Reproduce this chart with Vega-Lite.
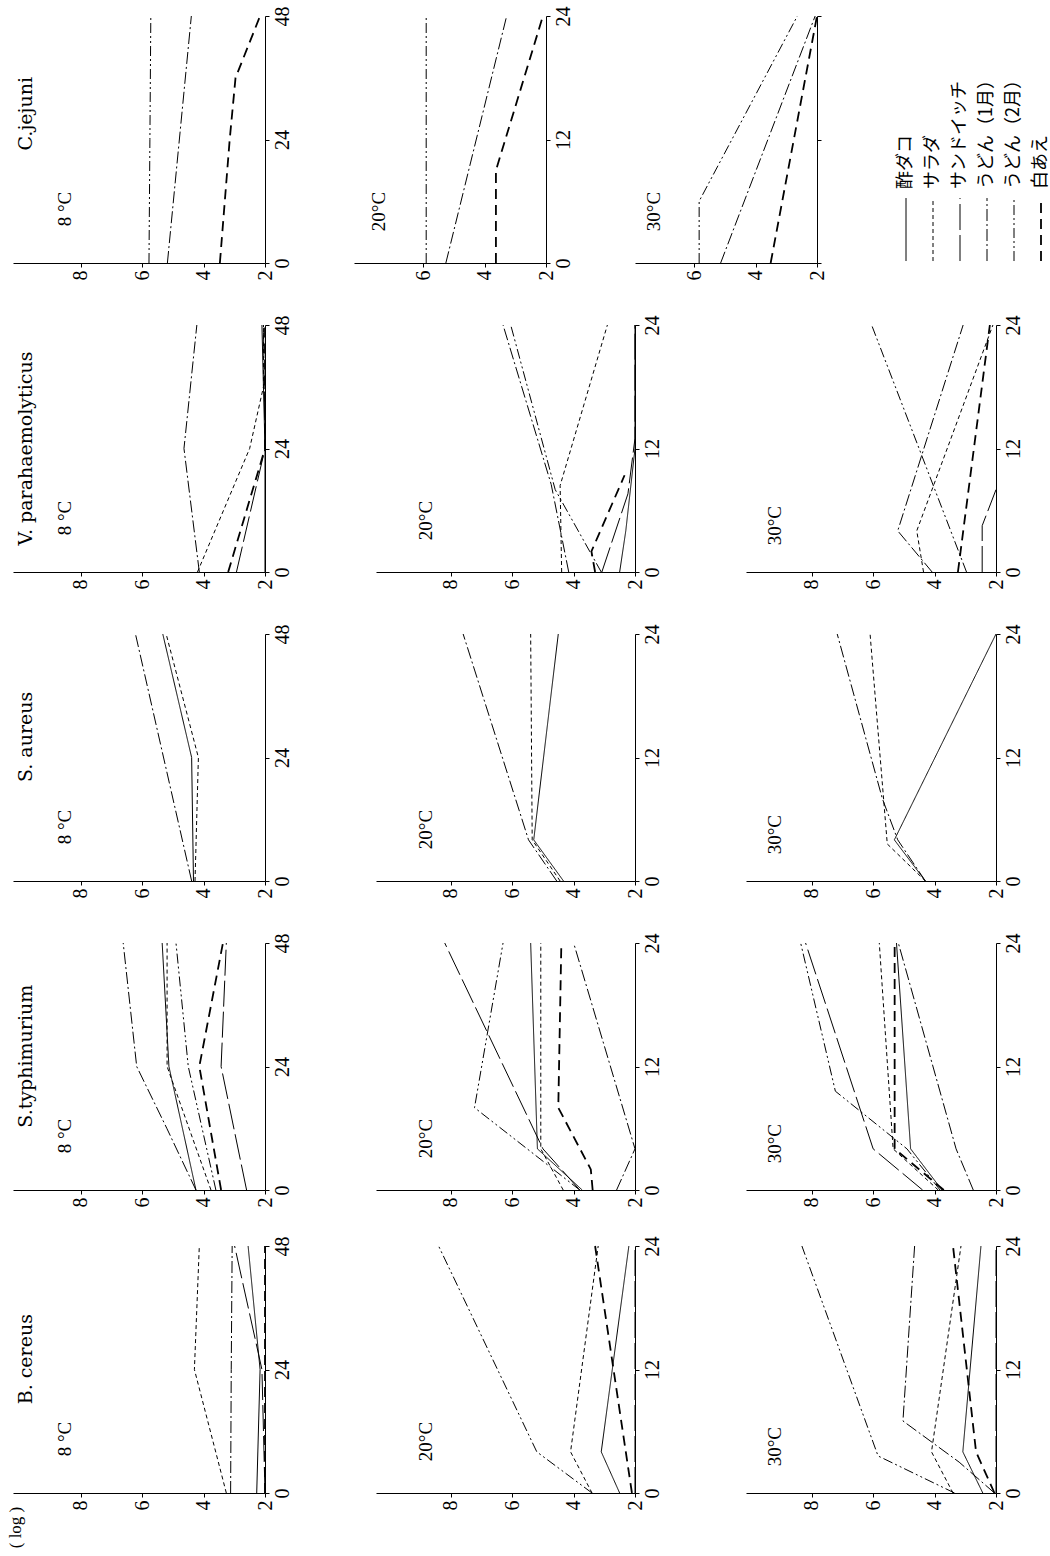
{
"$schema": "https://vega.github.io/schema/vega-lite/v6.json",
"padding": {"left": 5, "top": 5, "right": 5, "bottom": 5},
"background": "white",
"config": {
  "view": {"stroke": null},
  "axis": {"grid": false, "domainColor": "black", "tickColor": "black", "labelColor": "black", "labelFont": "Liberation Serif", "labelFontSize": 20, "labelAngle": 270, "tickSize": 4, "domainWidth": 1, "tickWidth": 1, "labelPadding": 3}
},
"data": {"values": [
{"o":"Cj","c":8,"s":"e","t":0,"v":5.78},{"o":"Cj","c":8,"s":"e","t":24,"v":5.75},{"o":"Cj","c":8,"s":"e","t":48,"v":5.72},
{"o":"Cj","c":8,"s":"d","t":0,"v":5.18},{"o":"Cj","c":8,"s":"d","t":48,"v":4.4},
{"o":"Cj","c":8,"s":"f","t":0,"v":3.47},{"o":"Cj","c":8,"s":"f","t":24,"v":3.15},{"o":"Cj","c":8,"s":"f","t":36,"v":2.96},{"o":"Cj","c":8,"s":"f","t":48,"v":2.16},
{"o":"Cj","c":20,"s":"e","t":0,"v":5.9},{"o":"Cj","c":20,"s":"e","t":24,"v":5.9},
{"o":"Cj","c":20,"s":"d","t":0,"v":5.26},{"o":"Cj","c":20,"s":"d","t":24,"v":3.28},
{"o":"Cj","c":20,"s":"f","t":0,"v":3.63},{"o":"Cj","c":20,"s":"f","t":9,"v":3.63},{"o":"Cj","c":20,"s":"f","t":24,"v":2.1},
{"o":"Cj","c":30,"s":"e","t":0,"v":5.84},{"o":"Cj","c":30,"s":"e","t":6,"v":5.84},{"o":"Cj","c":30,"s":"e","t":24,"v":2.64},
{"o":"Cj","c":30,"s":"d","t":0,"v":5.14},{"o":"Cj","c":30,"s":"d","t":24,"v":2.06},
{"o":"Cj","c":30,"s":"f","t":0,"v":3.51},{"o":"Cj","c":30,"s":"f","t":24,"v":2.0},
{"o":"Vp","c":8,"s":"d","t":0,"v":4.14},{"o":"Vp","c":8,"s":"d","t":24,"v":4.64},{"o":"Vp","c":8,"s":"d","t":48,"v":4.22},
{"o":"Vp","c":8,"s":"b","t":0,"v":4.2},{"o":"Vp","c":8,"s":"b","t":24,"v":2.5},{"o":"Vp","c":8,"s":"b","t":36,"v":2.05},{"o":"Vp","c":8,"s":"b","t":48,"v":2.05},
{"o":"Vp","c":8,"s":"f","t":0,"v":3.2},{"o":"Vp","c":8,"s":"f","t":24,"v":2.0},{"o":"Vp","c":8,"s":"f","t":48,"v":2.0},
{"o":"Vp","c":8,"s":"c","t":0,"v":2.93},{"o":"Vp","c":8,"s":"c","t":24,"v":2.0},{"o":"Vp","c":8,"s":"c","t":48,"v":2.05},
{"o":"Vp","c":8,"s":"a","t":0,"v":2.0},{"o":"Vp","c":8,"s":"a","t":24,"v":2.0},{"o":"Vp","c":8,"s":"a","t":48,"v":2.1},
{"o":"Vp","c":20,"s":"d","t":0,"v":4.16},{"o":"Vp","c":20,"s":"d","t":8.5,"v":4.73},{"o":"Vp","c":20,"s":"d","t":24,"v":6.3},
{"o":"Vp","c":20,"s":"e","t":0,"v":3.1},{"o":"Vp","c":20,"s":"e","t":8,"v":4.6},{"o":"Vp","c":20,"s":"e","t":24,"v":6.05},
{"o":"Vp","c":20,"s":"b","t":0,"v":4.39},{"o":"Vp","c":20,"s":"b","t":8.4,"v":4.44},{"o":"Vp","c":20,"s":"b","t":24,"v":2.9},
{"o":"Vp","c":20,"s":"f","t":0,"v":3.3},{"o":"Vp","c":20,"s":"f","t":2,"v":3.42},{"o":"Vp","c":20,"s":"f","t":9.4,"v":2.34},
{"o":"Vp","c":20,"s":"c","t":0,"v":3.08},{"o":"Vp","c":20,"s":"c","t":7.6,"v":2.23},{"o":"Vp","c":20,"s":"c","t":13,"v":2.0},{"o":"Vp","c":20,"s":"c","t":24,"v":2.0},
{"o":"Vp","c":20,"s":"a","t":0,"v":2.5},{"o":"Vp","c":20,"s":"a","t":4,"v":2.3},{"o":"Vp","c":20,"s":"a","t":12,"v":2.0},{"o":"Vp","c":20,"s":"a","t":24,"v":2.0},
{"o":"Vp","c":30,"s":"b","t":0,"v":4.36},{"o":"Vp","c":30,"s":"b","t":4,"v":4.58},{"o":"Vp","c":30,"s":"b","t":24,"v":2.1},
{"o":"Vp","c":30,"s":"d","t":0,"v":4.08},{"o":"Vp","c":30,"s":"d","t":4,"v":5.2},{"o":"Vp","c":30,"s":"d","t":24,"v":3.07},
{"o":"Vp","c":30,"s":"e","t":0,"v":2.96},{"o":"Vp","c":30,"s":"e","t":24,"v":6.05},
{"o":"Vp","c":30,"s":"f","t":0,"v":3.24},{"o":"Vp","c":30,"s":"f","t":24,"v":2.2},
{"o":"Vp","c":30,"s":"c","t":0,"v":2.45},{"o":"Vp","c":30,"s":"c","t":4.5,"v":2.45},{"o":"Vp","c":30,"s":"c","t":8,"v":2.0},
{"o":"Sa","c":8,"s":"a","t":0,"v":4.33},{"o":"Sa","c":8,"s":"a","t":24,"v":4.39},{"o":"Sa","c":8,"s":"a","t":48,"v":5.33},
{"o":"Sa","c":8,"s":"b","t":0,"v":4.28},{"o":"Sa","c":8,"s":"b","t":24,"v":4.17},{"o":"Sa","c":8,"s":"b","t":48,"v":5.22},
{"o":"Sa","c":8,"s":"d","t":0,"v":4.39},{"o":"Sa","c":8,"s":"d","t":48,"v":6.22},
{"o":"Sa","c":20,"s":"a","t":0,"v":4.33},{"o":"Sa","c":20,"s":"a","t":4,"v":5.3},{"o":"Sa","c":20,"s":"a","t":24,"v":4.5},
{"o":"Sa","c":20,"s":"b","t":0,"v":4.44},{"o":"Sa","c":20,"s":"b","t":4,"v":5.35},{"o":"Sa","c":20,"s":"b","t":24,"v":5.4},
{"o":"Sa","c":20,"s":"d","t":0,"v":4.55},{"o":"Sa","c":20,"s":"d","t":4,"v":5.47},{"o":"Sa","c":20,"s":"d","t":24,"v":7.6},
{"o":"Sa","c":30,"s":"a","t":0,"v":4.3},{"o":"Sa","c":30,"s":"a","t":4,"v":5.31},{"o":"Sa","c":30,"s":"a","t":24,"v":2.0},
{"o":"Sa","c":30,"s":"b","t":0,"v":4.3},{"o":"Sa","c":30,"s":"b","t":3.6,"v":5.54},{"o":"Sa","c":30,"s":"b","t":24,"v":6.1},
{"o":"Sa","c":30,"s":"d","t":0,"v":4.3},{"o":"Sa","c":30,"s":"d","t":4,"v":5.2},{"o":"Sa","c":30,"s":"d","t":8,"v":5.7},{"o":"Sa","c":30,"s":"d","t":24,"v":7.17},
{"o":"St","c":8,"s":"d","t":0,"v":4.25},{"o":"St","c":8,"s":"d","t":12,"v":5.2},{"o":"St","c":8,"s":"d","t":24,"v":6.18},{"o":"St","c":8,"s":"d","t":48,"v":6.62},
{"o":"St","c":8,"s":"a","t":0,"v":4.25},{"o":"St","c":8,"s":"a","t":24,"v":5.13},{"o":"St","c":8,"s":"a","t":48,"v":5.35},
{"o":"St","c":8,"s":"b","t":0,"v":3.76},{"o":"St","c":8,"s":"b","t":24,"v":5.19},{"o":"St","c":8,"s":"b","t":48,"v":5.19},
{"o":"St","c":8,"s":"e","t":0,"v":3.6},{"o":"St","c":8,"s":"e","t":24,"v":4.5},{"o":"St","c":8,"s":"e","t":48,"v":4.9},
{"o":"St","c":8,"s":"f","t":0,"v":3.43},{"o":"St","c":8,"s":"f","t":24,"v":4.14},{"o":"St","c":8,"s":"f","t":48,"v":3.37},
{"o":"St","c":8,"s":"c","t":0,"v":2.6},{"o":"St","c":8,"s":"c","t":24,"v":3.43},{"o":"St","c":8,"s":"c","t":48,"v":3.26},
{"o":"St","c":20,"s":"a","t":0,"v":3.72},{"o":"St","c":20,"s":"a","t":4,"v":5.18},{"o":"St","c":20,"s":"a","t":24,"v":5.4},
{"o":"St","c":20,"s":"b","t":0,"v":4.34},{"o":"St","c":20,"s":"b","t":4,"v":5.07},{"o":"St","c":20,"s":"b","t":24,"v":5.07},
{"o":"St","c":20,"s":"f","t":0,"v":3.38},{"o":"St","c":20,"s":"f","t":2,"v":3.44},{"o":"St","c":20,"s":"f","t":8,"v":4.5},{"o":"St","c":20,"s":"f","t":24,"v":4.4},
{"o":"St","c":20,"s":"d","t":0,"v":2.6},{"o":"St","c":20,"s":"d","t":4,"v":2.0},{"o":"St","c":20,"s":"d","t":24,"v":4.0},
{"o":"St","c":20,"s":"e","t":0,"v":3.8},{"o":"St","c":20,"s":"e","t":8,"v":7.23},{"o":"St","c":20,"s":"e","t":24,"v":6.3},
{"o":"St","c":20,"s":"c","t":0,"v":3.8},{"o":"St","c":20,"s":"c","t":4,"v":5.0},{"o":"St","c":20,"s":"c","t":24,"v":8.2},
{"o":"St","c":30,"s":"e","t":0,"v":3.82},{"o":"St","c":30,"s":"e","t":4,"v":4.9},{"o":"St","c":30,"s":"e","t":9.6,"v":7.23},{"o":"St","c":30,"s":"e","t":24,"v":8.36},
{"o":"St","c":30,"s":"c","t":0,"v":4.39},{"o":"St","c":30,"s":"c","t":4,"v":6.0},{"o":"St","c":30,"s":"c","t":24,"v":8.2},
{"o":"St","c":30,"s":"b","t":0,"v":3.88},{"o":"St","c":30,"s":"b","t":4,"v":5.35},{"o":"St","c":30,"s":"b","t":24,"v":5.8},
{"o":"St","c":30,"s":"a","t":0,"v":3.76},{"o":"St","c":30,"s":"a","t":4,"v":4.78},{"o":"St","c":30,"s":"a","t":24,"v":5.24},
{"o":"St","c":30,"s":"f","t":0,"v":3.7},{"o":"St","c":30,"s":"f","t":4,"v":5.3},{"o":"St","c":30,"s":"f","t":24,"v":5.3},
{"o":"St","c":30,"s":"d","t":0,"v":2.74},{"o":"St","c":30,"s":"d","t":4,"v":3.3},{"o":"St","c":30,"s":"d","t":24,"v":5.18},
{"o":"Bc","c":8,"s":"b","t":0,"v":3.26},{"o":"Bc","c":8,"s":"b","t":24,"v":4.3},{"o":"Bc","c":8,"s":"b","t":48,"v":4.14},
{"o":"Bc","c":8,"s":"d","t":0,"v":3.12},{"o":"Bc","c":8,"s":"d","t":24,"v":3.1},{"o":"Bc","c":8,"s":"d","t":48,"v":3.07},
{"o":"Bc","c":8,"s":"a","t":0,"v":2.27},{"o":"Bc","c":8,"s":"a","t":24,"v":2.16},{"o":"Bc","c":8,"s":"a","t":48,"v":2.55},
{"o":"Bc","c":8,"s":"c","t":0,"v":2.0},{"o":"Bc","c":8,"s":"c","t":24,"v":2.1},{"o":"Bc","c":8,"s":"c","t":48,"v":2.99},
{"o":"Bc","c":8,"s":"f","t":0,"v":2.0},{"o":"Bc","c":8,"s":"f","t":24,"v":2.0},{"o":"Bc","c":8,"s":"f","t":48,"v":2.0},
{"o":"Bc","c":20,"s":"e","t":0,"v":3.4},{"o":"Bc","c":20,"s":"e","t":4,"v":5.2},{"o":"Bc","c":20,"s":"e","t":24,"v":8.4},
{"o":"Bc","c":20,"s":"b","t":0,"v":3.4},{"o":"Bc","c":20,"s":"b","t":4,"v":4.1},{"o":"Bc","c":20,"s":"b","t":24,"v":3.2},
{"o":"Bc","c":20,"s":"a","t":0,"v":2.5},{"o":"Bc","c":20,"s":"a","t":4,"v":3.1},{"o":"Bc","c":20,"s":"a","t":24,"v":2.2},
{"o":"Bc","c":20,"s":"f","t":0,"v":2.1},{"o":"Bc","c":20,"s":"f","t":24,"v":3.3},
{"o":"Bc","c":20,"s":"c","t":0,"v":2.0},{"o":"Bc","c":20,"s":"c","t":24,"v":2.0},
{"o":"Bc","c":30,"s":"e","t":0,"v":3.35},{"o":"Bc","c":30,"s":"e","t":3.6,"v":5.84},{"o":"Bc","c":30,"s":"e","t":24,"v":8.32},
{"o":"Bc","c":30,"s":"d","t":0,"v":2.05},{"o":"Bc","c":30,"s":"d","t":3,"v":3.2},{"o":"Bc","c":30,"s":"d","t":7,"v":5.03},{"o":"Bc","c":30,"s":"d","t":24,"v":4.65},
{"o":"Bc","c":30,"s":"b","t":0,"v":3.4},{"o":"Bc","c":30,"s":"b","t":4,"v":4.1},{"o":"Bc","c":30,"s":"b","t":24,"v":3.14},
{"o":"Bc","c":30,"s":"a","t":0,"v":2.43},{"o":"Bc","c":30,"s":"a","t":4,"v":3.08},{"o":"Bc","c":30,"s":"a","t":24,"v":2.49},
{"o":"Bc","c":30,"s":"f","t":0,"v":2.05},{"o":"Bc","c":30,"s":"f","t":4,"v":2.65},{"o":"Bc","c":30,"s":"f","t":24,"v":3.4},
{"o":"Bc","c":30,"s":"c","t":0,"v":2.0},{"o":"Bc","c":30,"s":"c","t":24,"v":2.0}
]},
"spacing": 28,
"vconcat": [
{"spacing": 34, "vconcat": [
{"bounds": "flush", "spacing": 89, "hconcat": [
 {"width": 252, "height": 247, "layer": [
  {"transform": [{"filter": "datum.o==='Cj' && datum.c===8"}], "mark": {"type": "line", "color": "black"},
   "encoding": {"x": {"field": "v", "type": "quantitative", "scale": {"domain": [2, 10.21], "reverse": true, "nice": false, "zero": false}, "axis": {"values": [2,4,6,8], "title": null}},
    "y": {"field": "t", "type": "quantitative", "scale": {"domain": [0, 48], "nice": false}, "axis": {"orient": "right", "values": [0,24,48], "title": null}},
    "order": {"field": "t", "type": "quantitative"},
    "strokeDash": {"field": "s", "type": "nominal", "legend": null, "scale": {"domain": ["a","b","c","d","e","f"], "range": [[1,0],[4,3],[26,5],[12,3,2,3],[10,3,2,3,2,3],[10,6]]}},
    "strokeWidth": {"condition": {"test": "datum.s==='f'", "value": 1.8}, "value": 1}}},
  {"data": {"values": [{"k": "C.jejuni"}]}, "mark": {"type": "text", "angle": 270, "font": "DejaVu Serif", "fontSize": 19, "align": "center", "baseline": "middle", "color": "black"}, "encoding": {"x": {"datum": 9.8}, "y": {"datum": 29}, "text": {"field": "k"}}},
  {"data": {"values": [{"k": "8 °C"}]}, "mark": {"type": "text", "angle": 270, "font": "Liberation Serif", "fontSize": 19, "align": "center", "baseline": "middle", "color": "black"}, "encoding": {"x": {"datum": 8.5}, "y": {"datum": 10.5}, "text": {"field": "k"}}}
 ]},
 {"width": 192, "height": 247, "layer": [
  {"transform": [{"filter": "datum.o==='Cj' && datum.c===20"}], "mark": {"type": "line", "color": "black"},
   "encoding": {"x": {"field": "v", "type": "quantitative", "scale": {"domain": [2, 8.25], "reverse": true, "nice": false, "zero": false}, "axis": {"values": [2,4,6], "title": null}},
    "y": {"field": "t", "type": "quantitative", "scale": {"domain": [0, 24], "nice": false}, "axis": {"orient": "right", "values": [0,12,24], "title": null}},
    "order": {"field": "t", "type": "quantitative"},
    "strokeDash": {"field": "s", "type": "nominal", "legend": null, "scale": {"domain": ["a","b","c","d","e","f"], "range": [[1,0],[4,3],[26,5],[12,3,2,3],[10,3,2,3,2,3],[10,6]]}},
    "strokeWidth": {"condition": {"test": "datum.s==='f'", "value": 1.8}, "value": 1}}},
  {"data": {"values": [{"k": "20°C"}]}, "mark": {"type": "text", "angle": 270, "font": "Liberation Serif", "fontSize": 19, "align": "center", "baseline": "middle", "color": "black"}, "encoding": {"x": {"datum": 7.45}, "y": {"datum": 5}, "text": {"field": "k"}}}
 ]},
 {"width": 182, "height": 247, "layer": [
  {"transform": [{"filter": "datum.o==='Cj' && datum.c===30"}], "mark": {"type": "line", "color": "black"},
   "encoding": {"x": {"field": "v", "type": "quantitative", "scale": {"domain": [2, 7.93], "reverse": true, "nice": false, "zero": false}, "axis": {"values": [2,4,6], "title": null}},
    "y": {"field": "t", "type": "quantitative", "scale": {"domain": [0, 24], "nice": false}, "axis": {"orient": "right", "values": [0,12,24], "labels": false, "title": null}},
    "order": {"field": "t", "type": "quantitative"},
    "strokeDash": {"field": "s", "type": "nominal", "legend": null, "scale": {"domain": ["a","b","c","d","e","f"], "range": [[1,0],[4,3],[26,5],[12,3,2,3],[10,3,2,3,2,3],[10,6]]}},
    "strokeWidth": {"condition": {"test": "datum.s==='f'", "value": 1.8}, "value": 1}}},
  {"data": {"values": [{"k": "30°C"}]}, "mark": {"type": "text", "angle": 270, "font": "Liberation Serif", "fontSize": 19, "align": "center", "baseline": "middle", "color": "black"}, "encoding": {"x": {"datum": 7.3}, "y": {"datum": 5}, "text": {"field": "k"}}}
 ]},
 {"width": 135, "height": 247,
  "data": {"values": [{"s": "a", "n": "酢ダコ"}, {"s": "b", "n": "サラダ"}, {"s": "c", "n": "サンドイッチ"}, {"s": "d", "n": "うどん（1月）"}, {"s": "e", "n": "うどん（2月）"}, {"s": "f", "n": "白あえ"}]},
  "layer": [
  {"mark": {"type": "rule", "color": "black"},
   "encoding": {"x": {"field": "s", "type": "nominal", "sort": null, "scale": {"type": "point", "padding": 0}, "axis": null},
    "y": {"datum": 0.008, "type": "quantitative", "scale": {"domain": [0, 1]}, "axis": null},
    "y2": {"datum": 0.263},
    "strokeDash": {"field": "s", "type": "nominal", "legend": null, "scale": {"domain": ["a","b","c","d","e","f"], "range": [[1,0],[4,3],[26,5],[12,3,2,3],[10,3,2,3,2,3],[10,6]]}},
    "strokeWidth": {"condition": {"test": "datum.s==='f'", "value": 1.8}, "value": 1}}},
  {"mark": {"type": "text", "angle": 270, "font": "Noto Sans CJK JP", "fontSize": 18, "align": "left", "baseline": "middle", "color": "black"},
   "encoding": {"x": {"field": "s", "type": "nominal", "sort": null, "axis": null}, "y": {"datum": 0.3, "type": "quantitative"}, "text": {"field": "n"}}}
 ]}
]},
{"bounds": "flush", "spacing": 111, "hconcat": [
 {"width": 252, "height": 247, "layer": [
  {"transform": [{"filter": "datum.o==='Vp' && datum.c===8"}], "mark": {"type": "line", "color": "black"},
   "encoding": {"x": {"field": "v", "type": "quantitative", "scale": {"domain": [2, 10.21], "reverse": true, "nice": false, "zero": false}, "axis": {"values": [2,4,6,8], "title": null}},
    "y": {"field": "t", "type": "quantitative", "scale": {"domain": [0, 48], "nice": false}, "axis": {"orient": "right", "values": [0,24,48], "title": null}},
    "order": {"field": "t", "type": "quantitative"},
    "strokeDash": {"field": "s", "type": "nominal", "legend": null, "scale": {"domain": ["a","b","c","d","e","f"], "range": [[1,0],[4,3],[26,5],[12,3,2,3],[10,3,2,3,2,3],[10,6]]}},
    "strokeWidth": {"condition": {"test": "datum.s==='f'", "value": 1.8}, "value": 1}}},
  {"data": {"values": [{"k": "V. parahaemolyticus"}]}, "mark": {"type": "text", "angle": 270, "font": "DejaVu Serif", "fontSize": 19, "align": "center", "baseline": "middle", "color": "black"}, "encoding": {"x": {"datum": 9.8}, "y": {"datum": 24}, "text": {"field": "k"}}},
  {"data": {"values": [{"k": "8 °C"}]}, "mark": {"type": "text", "angle": 270, "font": "Liberation Serif", "fontSize": 19, "align": "center", "baseline": "middle", "color": "black"}, "encoding": {"x": {"datum": 8.5}, "y": {"datum": 10.5}, "text": {"field": "k"}}}
 ]},
 {"width": 259, "height": 247, "layer": [
  {"transform": [{"filter": "datum.o==='Vp' && datum.c===20"}], "mark": {"type": "line", "color": "black"},
   "encoding": {"x": {"field": "v", "type": "quantitative", "scale": {"domain": [2, 10.44], "reverse": true, "nice": false, "zero": false}, "axis": {"values": [2,4,6,8], "title": null}},
    "y": {"field": "t", "type": "quantitative", "scale": {"domain": [0, 24], "nice": false}, "axis": {"orient": "right", "values": [0,12,24], "title": null}},
    "order": {"field": "t", "type": "quantitative"},
    "strokeDash": {"field": "s", "type": "nominal", "legend": null, "scale": {"domain": ["a","b","c","d","e","f"], "range": [[1,0],[4,3],[26,5],[12,3,2,3],[10,3,2,3,2,3],[10,6]]}},
    "strokeWidth": {"condition": {"test": "datum.s==='f'", "value": 1.8}, "value": 1}}},
  {"data": {"values": [{"k": "20°C"}]}, "mark": {"type": "text", "angle": 270, "font": "Liberation Serif", "fontSize": 19, "align": "center", "baseline": "middle", "color": "black"}, "encoding": {"x": {"datum": 8.8}, "y": {"datum": 5}, "text": {"field": "k"}}}
 ]},
 {"width": 250, "height": 247, "layer": [
  {"transform": [{"filter": "datum.o==='Vp' && datum.c===30"}], "mark": {"type": "line", "color": "black"},
   "encoding": {"x": {"field": "v", "type": "quantitative", "scale": {"domain": [2, 10.14], "reverse": true, "nice": false, "zero": false}, "axis": {"values": [2,4,6,8], "title": null}},
    "y": {"field": "t", "type": "quantitative", "scale": {"domain": [0, 24], "nice": false}, "axis": {"orient": "right", "values": [0,12,24], "title": null}},
    "order": {"field": "t", "type": "quantitative"},
    "strokeDash": {"field": "s", "type": "nominal", "legend": null, "scale": {"domain": ["a","b","c","d","e","f"], "range": [[1,0],[4,3],[26,5],[12,3,2,3],[10,3,2,3,2,3],[10,6]]}},
    "strokeWidth": {"condition": {"test": "datum.s==='f'", "value": 1.8}, "value": 1}}},
  {"data": {"values": [{"k": "30°C"}]}, "mark": {"type": "text", "angle": 270, "font": "Liberation Serif", "fontSize": 19, "align": "center", "baseline": "middle", "color": "black"}, "encoding": {"x": {"datum": 9.2}, "y": {"datum": 4.5}, "text": {"field": "k"}}}
 ]}
]},
{"bounds": "flush", "spacing": 111, "hconcat": [
 {"width": 252, "height": 247, "layer": [
  {"transform": [{"filter": "datum.o==='Sa' && datum.c===8"}], "mark": {"type": "line", "color": "black"},
   "encoding": {"x": {"field": "v", "type": "quantitative", "scale": {"domain": [2, 10.21], "reverse": true, "nice": false, "zero": false}, "axis": {"values": [2,4,6,8], "title": null}},
    "y": {"field": "t", "type": "quantitative", "scale": {"domain": [0, 48], "nice": false}, "axis": {"orient": "right", "values": [0,24,48], "title": null}},
    "order": {"field": "t", "type": "quantitative"},
    "strokeDash": {"field": "s", "type": "nominal", "legend": null, "scale": {"domain": ["a","b","c","d","e","f"], "range": [[1,0],[4,3],[26,5],[12,3,2,3],[10,3,2,3,2,3],[10,6]]}},
    "strokeWidth": {"condition": {"test": "datum.s==='f'", "value": 1.8}, "value": 1}}},
  {"data": {"values": [{"k": "S. aureus"}]}, "mark": {"type": "text", "angle": 270, "font": "DejaVu Serif", "fontSize": 19, "align": "center", "baseline": "middle", "color": "black"}, "encoding": {"x": {"datum": 9.8}, "y": {"datum": 28}, "text": {"field": "k"}}},
  {"data": {"values": [{"k": "8 °C"}]}, "mark": {"type": "text", "angle": 270, "font": "Liberation Serif", "fontSize": 19, "align": "center", "baseline": "middle", "color": "black"}, "encoding": {"x": {"datum": 8.5}, "y": {"datum": 10.5}, "text": {"field": "k"}}}
 ]},
 {"width": 259, "height": 247, "layer": [
  {"transform": [{"filter": "datum.o==='Sa' && datum.c===20"}], "mark": {"type": "line", "color": "black"},
   "encoding": {"x": {"field": "v", "type": "quantitative", "scale": {"domain": [2, 10.44], "reverse": true, "nice": false, "zero": false}, "axis": {"values": [2,4,6,8], "title": null}},
    "y": {"field": "t", "type": "quantitative", "scale": {"domain": [0, 24], "nice": false}, "axis": {"orient": "right", "values": [0,12,24], "title": null}},
    "order": {"field": "t", "type": "quantitative"},
    "strokeDash": {"field": "s", "type": "nominal", "legend": null, "scale": {"domain": ["a","b","c","d","e","f"], "range": [[1,0],[4,3],[26,5],[12,3,2,3],[10,3,2,3,2,3],[10,6]]}},
    "strokeWidth": {"condition": {"test": "datum.s==='f'", "value": 1.8}, "value": 1}}},
  {"data": {"values": [{"k": "20°C"}]}, "mark": {"type": "text", "angle": 270, "font": "Liberation Serif", "fontSize": 19, "align": "center", "baseline": "middle", "color": "black"}, "encoding": {"x": {"datum": 8.8}, "y": {"datum": 5}, "text": {"field": "k"}}}
 ]},
 {"width": 250, "height": 247, "layer": [
  {"transform": [{"filter": "datum.o==='Sa' && datum.c===30"}], "mark": {"type": "line", "color": "black"},
   "encoding": {"x": {"field": "v", "type": "quantitative", "scale": {"domain": [2, 10.14], "reverse": true, "nice": false, "zero": false}, "axis": {"values": [2,4,6,8], "title": null}},
    "y": {"field": "t", "type": "quantitative", "scale": {"domain": [0, 24], "nice": false}, "axis": {"orient": "right", "values": [0,12,24], "title": null}},
    "order": {"field": "t", "type": "quantitative"},
    "strokeDash": {"field": "s", "type": "nominal", "legend": null, "scale": {"domain": ["a","b","c","d","e","f"], "range": [[1,0],[4,3],[26,5],[12,3,2,3],[10,3,2,3,2,3],[10,6]]}},
    "strokeWidth": {"condition": {"test": "datum.s==='f'", "value": 1.8}, "value": 1}}},
  {"data": {"values": [{"k": "30°C"}]}, "mark": {"type": "text", "angle": 270, "font": "Liberation Serif", "fontSize": 19, "align": "center", "baseline": "middle", "color": "black"}, "encoding": {"x": {"datum": 9.2}, "y": {"datum": 4.5}, "text": {"field": "k"}}}
 ]}
]},
{"bounds": "flush", "spacing": 111, "hconcat": [
 {"width": 252, "height": 247, "layer": [
  {"transform": [{"filter": "datum.o==='St' && datum.c===8"}], "mark": {"type": "line", "color": "black"},
   "encoding": {"x": {"field": "v", "type": "quantitative", "scale": {"domain": [2, 10.21], "reverse": true, "nice": false, "zero": false}, "axis": {"values": [2,4,6,8], "title": null}},
    "y": {"field": "t", "type": "quantitative", "scale": {"domain": [0, 48], "nice": false}, "axis": {"orient": "right", "values": [0,24,48], "title": null}},
    "order": {"field": "t", "type": "quantitative"},
    "strokeDash": {"field": "s", "type": "nominal", "legend": null, "scale": {"domain": ["a","b","c","d","e","f"], "range": [[1,0],[4,3],[26,5],[12,3,2,3],[10,3,2,3,2,3],[10,6]]}},
    "strokeWidth": {"condition": {"test": "datum.s==='f'", "value": 1.8}, "value": 1}}},
  {"data": {"values": [{"k": "S.typhimurium"}]}, "mark": {"type": "text", "angle": 270, "font": "DejaVu Serif", "fontSize": 19, "align": "center", "baseline": "middle", "color": "black"}, "encoding": {"x": {"datum": 9.8}, "y": {"datum": 26}, "text": {"field": "k"}}},
  {"data": {"values": [{"k": "8 °C"}]}, "mark": {"type": "text", "angle": 270, "font": "Liberation Serif", "fontSize": 19, "align": "center", "baseline": "middle", "color": "black"}, "encoding": {"x": {"datum": 8.5}, "y": {"datum": 10.5}, "text": {"field": "k"}}}
 ]},
 {"width": 259, "height": 247, "layer": [
  {"transform": [{"filter": "datum.o==='St' && datum.c===20"}], "mark": {"type": "line", "color": "black"},
   "encoding": {"x": {"field": "v", "type": "quantitative", "scale": {"domain": [2, 10.44], "reverse": true, "nice": false, "zero": false}, "axis": {"values": [2,4,6,8], "title": null}},
    "y": {"field": "t", "type": "quantitative", "scale": {"domain": [0, 24], "nice": false}, "axis": {"orient": "right", "values": [0,12,24], "title": null}},
    "order": {"field": "t", "type": "quantitative"},
    "strokeDash": {"field": "s", "type": "nominal", "legend": null, "scale": {"domain": ["a","b","c","d","e","f"], "range": [[1,0],[4,3],[26,5],[12,3,2,3],[10,3,2,3,2,3],[10,6]]}},
    "strokeWidth": {"condition": {"test": "datum.s==='f'", "value": 1.8}, "value": 1}}},
  {"data": {"values": [{"k": "20°C"}]}, "mark": {"type": "text", "angle": 270, "font": "Liberation Serif", "fontSize": 19, "align": "center", "baseline": "middle", "color": "black"}, "encoding": {"x": {"datum": 8.8}, "y": {"datum": 5}, "text": {"field": "k"}}}
 ]},
 {"width": 250, "height": 247, "layer": [
  {"transform": [{"filter": "datum.o==='St' && datum.c===30"}], "mark": {"type": "line", "color": "black"},
   "encoding": {"x": {"field": "v", "type": "quantitative", "scale": {"domain": [2, 10.14], "reverse": true, "nice": false, "zero": false}, "axis": {"values": [2,4,6,8], "title": null}},
    "y": {"field": "t", "type": "quantitative", "scale": {"domain": [0, 24], "nice": false}, "axis": {"orient": "right", "values": [0,12,24], "title": null}},
    "order": {"field": "t", "type": "quantitative"},
    "strokeDash": {"field": "s", "type": "nominal", "legend": null, "scale": {"domain": ["a","b","c","d","e","f"], "range": [[1,0],[4,3],[26,5],[12,3,2,3],[10,3,2,3,2,3],[10,6]]}},
    "strokeWidth": {"condition": {"test": "datum.s==='f'", "value": 1.8}, "value": 1}}},
  {"data": {"values": [{"k": "30°C"}]}, "mark": {"type": "text", "angle": 270, "font": "Liberation Serif", "fontSize": 19, "align": "center", "baseline": "middle", "color": "black"}, "encoding": {"x": {"datum": 9.2}, "y": {"datum": 4.5}, "text": {"field": "k"}}}
 ]}
]}
]},
{"bounds": "flush", "spacing": 111, "hconcat": [
 {"width": 252, "height": 247, "layer": [
  {"transform": [{"filter": "datum.o==='Bc' && datum.c===8"}], "mark": {"type": "line", "color": "black"},
   "encoding": {"x": {"field": "v", "type": "quantitative", "scale": {"domain": [2, 10.21], "reverse": true, "nice": false, "zero": false}, "axis": {"values": [2,4,6,8], "title": "( log )", "titleAngle": 270, "titleX": 2, "titleY": 34, "titleAlign": "center", "titleBaseline": "middle", "titleFont": "Liberation Serif", "titleFontSize": 17, "titleFontWeight": "normal", "titleColor": "black"}},
    "y": {"field": "t", "type": "quantitative", "scale": {"domain": [0, 48], "nice": false}, "axis": {"orient": "right", "values": [0,24,48], "title": null}},
    "order": {"field": "t", "type": "quantitative"},
    "strokeDash": {"field": "s", "type": "nominal", "legend": null, "scale": {"domain": ["a","b","c","d","e","f"], "range": [[1,0],[4,3],[26,5],[12,3,2,3],[10,3,2,3,2,3],[10,6]]}},
    "strokeWidth": {"condition": {"test": "datum.s==='f'", "value": 1.8}, "value": 1}}},
  {"data": {"values": [{"k": "B. cereus"}]}, "mark": {"type": "text", "angle": 270, "font": "DejaVu Serif", "fontSize": 19, "align": "center", "baseline": "middle", "color": "black"}, "encoding": {"x": {"datum": 9.8}, "y": {"datum": 26}, "text": {"field": "k"}}},
  {"data": {"values": [{"k": "8 °C"}]}, "mark": {"type": "text", "angle": 270, "font": "Liberation Serif", "fontSize": 19, "align": "center", "baseline": "middle", "color": "black"}, "encoding": {"x": {"datum": 8.5}, "y": {"datum": 10.5}, "text": {"field": "k"}}}
 ]},
 {"width": 259, "height": 247, "layer": [
  {"transform": [{"filter": "datum.o==='Bc' && datum.c===20"}], "mark": {"type": "line", "color": "black"},
   "encoding": {"x": {"field": "v", "type": "quantitative", "scale": {"domain": [2, 10.44], "reverse": true, "nice": false, "zero": false}, "axis": {"values": [2,4,6,8], "title": null}},
    "y": {"field": "t", "type": "quantitative", "scale": {"domain": [0, 24], "nice": false}, "axis": {"orient": "right", "values": [0,12,24], "title": null}},
    "order": {"field": "t", "type": "quantitative"},
    "strokeDash": {"field": "s", "type": "nominal", "legend": null, "scale": {"domain": ["a","b","c","d","e","f"], "range": [[1,0],[4,3],[26,5],[12,3,2,3],[10,3,2,3,2,3],[10,6]]}},
    "strokeWidth": {"condition": {"test": "datum.s==='f'", "value": 1.8}, "value": 1}}},
  {"data": {"values": [{"k": "20°C"}]}, "mark": {"type": "text", "angle": 270, "font": "Liberation Serif", "fontSize": 19, "align": "center", "baseline": "middle", "color": "black"}, "encoding": {"x": {"datum": 8.8}, "y": {"datum": 5}, "text": {"field": "k"}}}
 ]},
 {"width": 250, "height": 247, "layer": [
  {"transform": [{"filter": "datum.o==='Bc' && datum.c===30"}], "mark": {"type": "line", "color": "black"},
   "encoding": {"x": {"field": "v", "type": "quantitative", "scale": {"domain": [2, 10.14], "reverse": true, "nice": false, "zero": false}, "axis": {"values": [2,4,6,8], "title": null}},
    "y": {"field": "t", "type": "quantitative", "scale": {"domain": [0, 24], "nice": false}, "axis": {"orient": "right", "values": [0,12,24], "title": null}},
    "order": {"field": "t", "type": "quantitative"},
    "strokeDash": {"field": "s", "type": "nominal", "legend": null, "scale": {"domain": ["a","b","c","d","e","f"], "range": [[1,0],[4,3],[26,5],[12,3,2,3],[10,3,2,3,2,3],[10,6]]}},
    "strokeWidth": {"condition": {"test": "datum.s==='f'", "value": 1.8}, "value": 1}}},
  {"data": {"values": [{"k": "30°C"}]}, "mark": {"type": "text", "angle": 270, "font": "Liberation Serif", "fontSize": 19, "align": "center", "baseline": "middle", "color": "black"}, "encoding": {"x": {"datum": 9.2}, "y": {"datum": 4.5}, "text": {"field": "k"}}}
 ]}
]}
]
}
